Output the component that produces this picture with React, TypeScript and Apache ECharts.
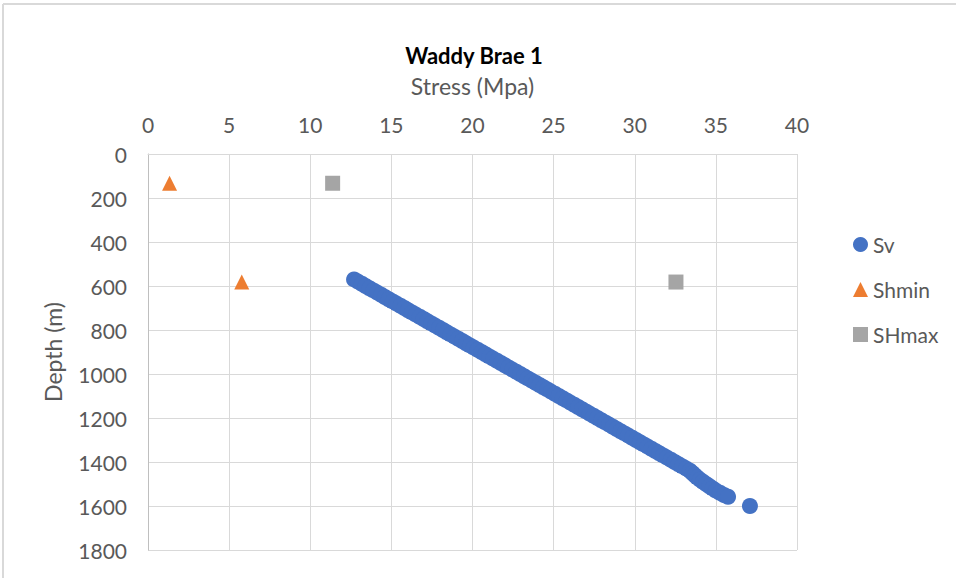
import React, { useEffect, useRef } from "react";
import * as echarts from "echarts";

const titleText = "Waddy Brae 1";
const xAxisName = "Stress (Mpa)";
const yAxisName = "Depth (m)";

// [stress (MPa), depth (m)]
const svData: [number, number][] = [
  [12.7, 570], [12.94, 580], [13.18, 590], [13.41, 600], [13.65, 610],
  [13.89, 620], [14.13, 630], [14.37, 640], [14.6, 650], [14.84, 660],
  [15.08, 670], [15.32, 680], [15.56, 690], [15.8, 700], [16.03, 710],
  [16.27, 720], [16.51, 730], [16.75, 740], [16.99, 750], [17.22, 760],
  [17.46, 770], [17.7, 780], [17.94, 790], [18.18, 800], [18.41, 810],
  [18.65, 820], [18.89, 830], [19.13, 840], [19.37, 850], [19.6, 860],
  [19.84, 870], [20.08, 880], [20.32, 890], [20.56, 900], [20.8, 910],
  [21.03, 920], [21.27, 930], [21.51, 940], [21.75, 950], [21.99, 960],
  [22.22, 970], [22.46, 980], [22.7, 990], [22.94, 1000], [23.18, 1010],
  [23.41, 1020], [23.65, 1030], [23.89, 1040], [24.13, 1050], [24.37, 1060],
  [24.61, 1070], [24.84, 1080], [25.08, 1090], [25.32, 1100], [25.56, 1110],
  [25.8, 1120], [26.03, 1130], [26.27, 1140], [26.51, 1150], [26.75, 1160],
  [26.99, 1170], [27.22, 1180], [27.46, 1190], [27.7, 1200], [27.94, 1210],
  [28.18, 1220], [28.42, 1230], [28.65, 1240], [28.89, 1250], [29.13, 1260],
  [29.37, 1270], [29.61, 1280], [29.84, 1290], [30.08, 1300], [30.32, 1310],
  [30.56, 1320], [30.8, 1330], [31.03, 1340], [31.27, 1350], [31.51, 1360],
  [31.75, 1370], [31.99, 1380], [32.23, 1390], [32.46, 1400], [32.7, 1410],
  [32.94, 1420], [33.18, 1430], [33.4, 1440], [33.55, 1450], [33.7, 1460],
  [33.85, 1470], [34.02, 1480], [34.2, 1490], [34.4, 1500], [34.6, 1510],
  [34.8, 1520], [35.0, 1530], [35.25, 1540], [35.5, 1550], [35.75, 1558],
  [37.1, 1600],
];
const shminData: [number, number][] = [
  [1.33, 133],
  [5.78, 582],
];
const shmaxData: [number, number][] = [
  [11.38, 133],
  [32.54, 582],
];

const xMin = 0;
const xMax = 40;
const xInterval = 5;
const yMin = 0;
const yMax = 1800;
const yInterval = 200;

const FONT = "Lato, 'Noto Sans', sans-serif";
const TXT = "#595959";

export default function App() {
  const ref = useRef<HTMLDivElement>(null);
  useEffect(() => {
    document.body.style.margin = "0";
    if (!ref.current) return;
    const chart = echarts.init(ref.current, undefined, { renderer: "svg" });
    chart.setOption({
      animation: false,
      backgroundColor: "#ffffff",
      textStyle: { fontFamily: FONT },
      grid: { left: 148, top: 154, right: 159, bottom: 28, containLabel: false },
      graphic: [
        {
          type: "line",
          shape: { x1: 3, y1: 4, x2: 956, y2: 4 },
          style: { stroke: "#d9d9d9", lineWidth: 2 },
        },
        {
          type: "line",
          shape: { x1: 3, y1: 4, x2: 3, y2: 578 },
          style: { stroke: "#d9d9d9", lineWidth: 2 },
        },
        {
          type: "text",
          x: 474,
          y: 55,
          style: {
            text: titleText,
            fontFamily: FONT,
            fontSize: 22,
            fontWeight: "bold",
            fill: "#000000",
            textAlign: "center",
            textVerticalAlign: "middle",
          },
        },
      ],
      legend: {
        orient: "vertical",
        left: 848,
        top: 229,
        itemWidth: 15,
        itemHeight: 15,
        itemGap: 24,
        textStyle: { fontSize: 21, color: TXT, fontFamily: FONT },
        data: [
          { name: "Sv", icon: "circle" },
          { name: "Shmin", icon: "triangle" },
          { name: "SHmax", icon: "rect" },
        ],
      },
      xAxis: {
        type: "value",
        position: "top",
        min: xMin,
        max: xMax,
        interval: xInterval,
        name: xAxisName,
        nameLocation: "middle",
        nameGap: 57,
        nameTextStyle: { fontSize: 23, color: TXT, fontFamily: FONT },
        axisLine: { show: true, lineStyle: { color: "#d9d9d9", width: 1 } },
        axisTick: { show: false },
        axisLabel: { fontSize: 21, color: TXT, margin: 19, fontFamily: FONT },
        splitLine: { show: true, lineStyle: { color: "#d9d9d9", width: 1 } },
      },
      yAxis: {
        type: "value",
        inverse: true,
        min: yMin,
        max: yMax,
        interval: yInterval,
        name: yAxisName,
        nameLocation: "middle",
        nameGap: 84,
        nameRotate: 90,
        nameTextStyle: { fontSize: 23, color: TXT, fontFamily: FONT },
        axisLine: { show: true, lineStyle: { color: "#bfbfbf", width: 1 } },
        axisTick: { show: false },
        axisLabel: {
          fontSize: 21,
          color: TXT,
          margin: 21,
          fontFamily: FONT,
          formatter: (v: number) => String(v),
        },
        splitLine: { show: true, lineStyle: { color: "#d9d9d9", width: 1 } },
      },
      series: [
        {
          name: "Sv",
          type: "scatter",
          data: svData,
          symbol: "circle",
          symbolSize: 16,
          itemStyle: { color: "#4472C4", opacity: 1 },
        },
        {
          name: "Shmin",
          type: "scatter",
          data: shminData,
          symbol: "triangle",
          symbolSize: 15,
          itemStyle: { color: "#ED7D31", opacity: 1 },
        },
        {
          name: "SHmax",
          type: "scatter",
          data: shmaxData,
          symbol: "rect",
          symbolSize: 15,
          itemStyle: { color: "#A5A5A5", opacity: 1 },
        },
      ],
    });
    return () => chart.dispose();
  }, []);
  return <div ref={ref} style={{ width: 956, height: 578 }} />;
}
